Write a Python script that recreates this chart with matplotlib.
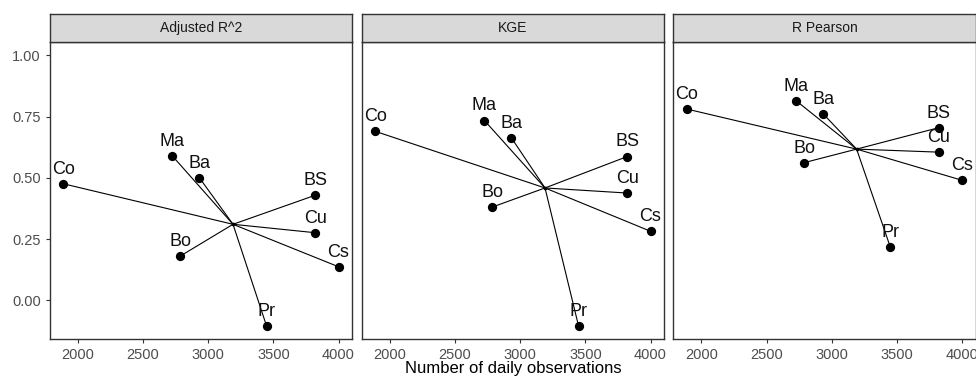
import numpy as np
import matplotlib
matplotlib.use("Agg")
import matplotlib.pyplot as plt

plt.rcParams["font.family"] = ["Liberation Sans", "DejaVu Sans"]

# stations and their record length
stations = ["Co", "Ma", "Ba", "Bo", "BS", "Cu", "Cs", "Pr"]
n_obs = [1888, 2726, 2933, 2787, 3821, 3821, 4000, 3448]

# goodness-of-fit scores per metric
metrics = ["Adjusted R^2", "KGE", "R Pearson"]
adj_r2 = [0.476, 0.589, 0.500, 0.181, 0.429, 0.276, 0.137, -0.105]
kge = [0.690, 0.734, 0.663, 0.381, 0.587, 0.438, 0.282, -0.105]
r_pearson = [0.781, 0.815, 0.762, 0.562, 0.705, 0.605, 0.490, 0.219]
scores = [adj_r2, kge, r_pearson]

y_ticks = [0.00, 0.25, 0.50, 0.75, 1.00]
x_ticks = [2000, 2500, 3000, 3500, 4000]

W, H = 976, 380
fig = plt.figure(figsize=(W / 100, H / 100), dpi=100)

panel_left = [49.7, 361.7, 673.3]
panel_w = 302.5
top, strip_bot, bot = 14.3, 41.7, 339.0

x = np.array(n_obs, dtype=float)
for i, (name, vals) in enumerate(zip(metrics, scores)):
    y = np.array(vals)
    ax = fig.add_axes([panel_left[i] / W, (H - bot) / H, panel_w / W, (bot - strip_bot) / H])
    cx, cy = np.median(x), y.mean()
    for xi, yi in zip(x, y):
        ax.plot([cx, xi], [cy, yi], color="black", lw=0.8, zorder=2)
    ax.scatter(x, y, s=32, color="black", zorder=3)
    ax.scatter([cx], [cy], s=3, color="black", zorder=3)
    for lab, xi, yi in zip(stations, x, y):
        ax.annotate(lab, (xi, yi), xytext=(0, 10.5), textcoords="offset points",
                    ha="center", va="center", fontsize=13, color="#111111", zorder=4)
    ax.set_xlim(1784, 4105)
    ax.set_ylim(-0.158, 1.056)
    ax.set_xticks(x_ticks)
    ax.set_yticks(y_ticks)
    if i == 0:
        ax.set_yticklabels([f"{t:.2f}" for t in y_ticks])
    else:
        ax.tick_params(axis="y", left=False, labelleft=False)
    ax.tick_params(colors="#333333", labelcolor="#4d4d4d", labelsize=10.5, length=3, width=0.8)
    for sp in ax.spines.values():
        sp.set_color("#333333")
        sp.set_linewidth(1.0)

    # facet strip
    sax = fig.add_axes([panel_left[i] / W, (H - strip_bot) / H, panel_w / W, (strip_bot - top) / H])
    sax.set_xticks([])
    sax.set_yticks([])
    sax.set_facecolor("#d9d9d9")
    for sp in sax.spines.values():
        sp.set_color("#333333")
        sp.set_linewidth(1.0)
    sax.text(0.5, 0.5, name, ha="center", va="center", fontsize=10, color="#1a1a1a",
             transform=sax.transAxes)

fig.text(513 / W, 1 - 369 / H, "Number of daily observations", ha="center", va="center",
         fontsize=12, color="black")

fig.savefig("out.png", dpi=100)
